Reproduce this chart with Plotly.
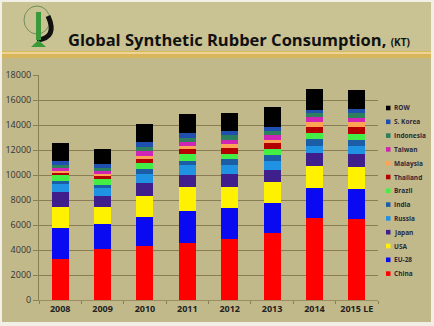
import plotly.graph_objects as go

years = ["2008", "2009", "2010", "2011", "2012", "2013", "2014", "2015 LE"]

china     = [3280, 4080, 4350, 4530, 4880, 5330, 6530, 6450]
eu28      = [2500, 2030, 2290, 2590, 2450, 2400, 2400, 2430]
usa       = [1680, 1300, 1710, 1890, 1730, 1680, 1810, 1790]
japan     = [1150, 910, 1040, 990, 1010, 990, 1040, 1010]
russia    = [670, 610, 720, 800, 770, 750, 560, 650]
india     = [240, 270, 400, 350, 480, 450, 510, 510]
brazil    = [450, 450, 440, 510, 400, 450, 480, 480]
thailand  = [210, 290, 350, 400, 480, 480, 530, 530]
malaysia  = [130, 160, 200, 240, 270, 270, 400, 400]
taiwan    = [270, 210, 450, 370, 370, 400, 350, 350]
indonesia = [210, 270, 290, 320, 350, 350, 320, 400]
skorea    = [320, 290, 370, 350, 320, 320, 270, 320]
row       = [1470, 1250, 1440, 1550, 1490, 1600, 1650, 1520]

series = [
    ("China", china, "#ff0000"),
    ("EU-28", eu28, "#0a0af2"),
    ("USA", usa, "#fff200"),
    ("Japan", japan, "#3f1f8c"),
    ("Russia", russia, "#2092e4"),
    ("India", india, "#1c5ea6"),
    ("Brazil", brazil, "#44ee44"),
    ("Thailand", thailand, "#b40000"),
    ("Malaysia", malaysia, "#ffa455"),
    ("Taiwan", taiwan, "#d024b4"),
    ("Indonesia", indonesia, "#2e7f5e"),
    ("S. Korea", skorea, "#1f50b0"),
    ("ROW", row, "#000000"),
]

y_ticks = [0, 2000, 4000, 6000, 8000, 10000, 12000, 14000, 16000, 18000]
y_tick_labels = ["0", "2000", "4000", "6000", "8000", "10000", "12000", "14000", "16000", "18000"]

W, H = 434, 326
L, R, T, B = 39, 378, 75, 300

def px(x):
    return (x - L) / (R - L)

def py(y):
    return (B - y) / (B - T)

fig = go.Figure()
for name, vals, col in series:
    fig.add_trace(go.Bar(x=years, y=vals, name=name, marker=dict(color=col, line=dict(width=0)),
                         showlegend=False))

shapes = []
annotations = []

# header band and stripe
shapes.append(dict(type="rect", xref="paper", yref="paper", x0=px(0), x1=px(W), y0=py(51), y1=py(0),
                   fillcolor="#c9c292", line=dict(width=0), layer="below"))
shapes.append(dict(type="rect", xref="paper", yref="paper", x0=px(0), x1=px(W), y0=py(58), y1=py(51),
                   fillcolor="#d9b55c", line=dict(width=0), layer="below"))
shapes.append(dict(type="rect", xref="paper", yref="paper", x0=px(0), x1=px(W), y0=py(54), y1=py(52),
                   fillcolor="#ecd494", line=dict(width=0), layer="below"))
# white frame
for (x0, x1, y0, y1) in [(0, W, 322, H), (0, W, 0, 2), (0, 2, 0, H), (W - 3, W, 0, H)]:
    shapes.append(dict(type="rect", xref="paper", yref="paper", x0=px(x0), x1=px(x1), y0=py(y1), y1=py(y0),
                       fillcolor="#f2f0e6", line=dict(width=0)))

# simple logo
shapes.append(dict(type="circle", xref="paper", yref="paper", x0=px(24), x1=px(50), y0=py(34), y1=py(6),
                   line=dict(color="#6f8f5f", width=1)))
shapes.append(dict(type="path", xref="paper", yref="paper",
                   path="M {} {} Q {} {} {} {}".format(px(48), py(16), px(58), py(38), px(37), py(40)),
                   line=dict(color="#111111", width=5)))
shapes.append(dict(type="rect", xref="paper", yref="paper", x0=px(36), x1=px(41), y0=py(40), y1=py(12),
                   fillcolor="#3a9a3a", line=dict(width=0)))
shapes.append(dict(type="path", xref="paper", yref="paper",
                   path="M {} {} L {} {} L {} {} Z".format(px(31), py(47), px(46), py(47), px(38.5), py(40)),
                   fillcolor="#3a9a3a", line=dict(width=0)))

# manual legend (top to bottom: ROW ... China)
leg_top = 108
leg_step = 13.8
for i, (name, vals, col) in enumerate(reversed(series)):
    yc = leg_top + i * leg_step
    shapes.append(dict(type="rect", xref="paper", yref="paper", x0=px(386), x1=px(390.5),
                       y0=py(yc + 2.3), y1=py(yc - 2.3), fillcolor=col, line=dict(width=0)))
    annotations.append(dict(x=px(391.5), y=py(yc), xref="paper", yref="paper", text="<b>" + name + "</b>",
                            showarrow=False, xanchor="left", yanchor="middle",
                            font=dict(family="Open Sans", size=6.5, color="#2a2a3a")))

# title
annotations.append(dict(x=px(66), y=py(39), xref="paper", yref="paper",
                        text="<b>Global Synthetic Rubber Consumption, </b><b><span style='font-size:10px'>(KT)</span></b>",
                        showarrow=False, xanchor="left", yanchor="middle",
                        font=dict(family="Open Sans", size=16.5, color="#111111")))

fig.update_layout(
    width=W, height=H,
    margin=dict(l=L, r=W - R, t=T, b=H - B, autoexpand=False),
    barmode="stack", bargap=0.6,
    paper_bgcolor="#c2b98a", plot_bgcolor="#c2b98a",
    shapes=shapes, annotations=annotations,
    font=dict(family="Open Sans", color="#1a1a1a"),
)
fig.update_xaxes(showgrid=False, showline=True, linecolor="#9a8d65", linewidth=1,
                 ticks="outside", ticklen=3, tickcolor="#8a7d55", tickson="boundaries",
                 tickangle=0, automargin=False,
                 tickfont=dict(size=9, family="Open Sans", color="#222222"),
                 tickprefix="<b>", ticksuffix="</b>")
fig.update_yaxes(range=[0, 18000], tickvals=y_ticks, ticktext=y_tick_labels,
                 showgrid=True, gridcolor="#8a7d55", gridwidth=1, automargin=False,
                 showline=True, linecolor="#8a7d55", linewidth=1, zeroline=False,
                 ticks="outside", ticklen=5, tickcolor="#8a7d55",
                 tickfont=dict(size=9, family="Open Sans", color="#333333"),
                 tickprefix="<b>", ticksuffix="</b>")

fig.write_html("out.html")
